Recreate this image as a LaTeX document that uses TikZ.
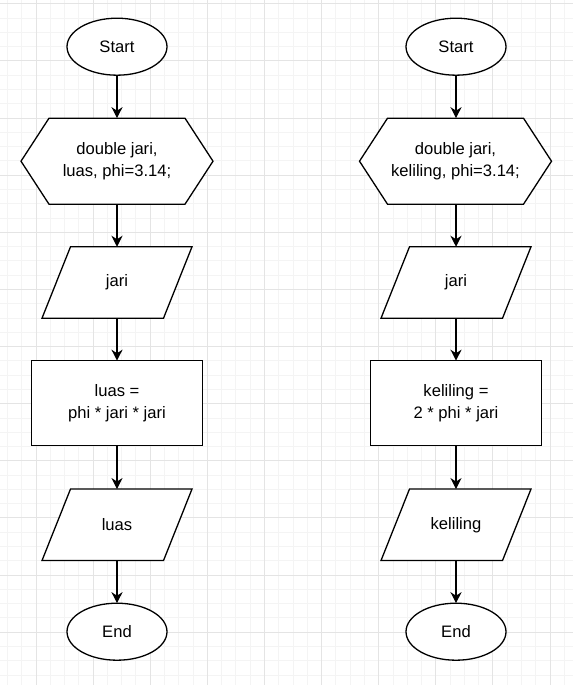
\documentclass[tikz,border=0pt]{standalone}
\usepackage{fontspec}
\setmainfont{Liberation Sans}
\usetikzlibrary{arrows.meta,shapes.geometric}

\pgfdeclarelayer{grid}
\pgfdeclarelayer{outline}
\pgfsetlayers{grid,outline,main}

\definecolor{gridminor}{HTML}{F4F4F4}
\definecolor{gridmajor}{HTML}{E4E4E4}

% outlines for the hexagon (preparation) and parallelogram (input/output) boxes
\newcommand\hexoutline[1]{%
  \draw[shapeline] ([xshift=28pt]#1.north west) -- ([xshift=-28pt]#1.north east)
    -- (#1.east) -- ([xshift=-28pt]#1.south east) -- ([xshift=28pt]#1.south west)
    -- (#1.west) -- cycle;}
\newcommand\iooutline[1]{%
  \draw[shapeline] ([xshift=28.5pt]#1.north west) -- (#1.north east)
    -- ([xshift=-28.5pt]#1.south east) -- (#1.south west) -- cycle;}

\begin{document}
\begin{tikzpicture}[x=1pt,y=-1pt,
  base/.style={font=\fontsize{16.6}{21.7}\selectfont, align=center,
    inner sep=0pt, outer sep=0pt},
  terminal/.style={base, ellipse, draw, fill=white, line width=1.3pt,
    minimum width=100pt, minimum height=57pt},
  process/.style={base, rectangle, draw, fill=white, line width=1.3pt,
    minimum width=170.5pt, minimum height=85pt},
  hexbox/.style={base, minimum width=192pt, minimum height=86pt},
  iobox/.style={base, minimum width=150pt, minimum height=71.5pt},
  shapeline/.style={draw, fill=white, line width=1.3pt, line join=miter},
  flow/.style={line width=1.3pt, -{Stealth[length=11pt,width=11pt,inset=3.5pt]}}
]
\useasboundingbox (0,0) rectangle (573,685);

% background grid
\begin{pgfonlayer}{grid}
  \fill[white] (0,0) rectangle (573,685);
  \foreach \i in {0,...,39}
    \draw[gridminor, line width=1pt] ({7.44+14.28*\i},0) -- ++(0,685);
  \foreach \i in {0,...,47}
    \draw[gridminor, line width=1pt] (0,{3.88+14.28*\i}) -- ++(573,0);
  \foreach \i in {0,...,9}
    \draw[gridmajor, line width=1pt] ({36+57.12*\i},0) -- ++(0,685);
  \foreach \i in {-1,...,11}
    \draw[gridmajor, line width=1pt] (0,{61+57.12*\i}) -- ++(573,0);
\end{pgfonlayer}

% left flowchart: area of a circle
\node[terminal] (startL) at (117,46.7) {Start};
\node[hexbox]   (declL)  at (117,161.2) {double jari,\\luas, phi=3.14;};
\node[iobox]    (inL)    at (117,282.5) {jari};
\node[process]  (calcL)  at (117,403.2) {luas =\\phi * jari * jari};
\node[iobox]    (outL)   at (117,524.8) {luas};
\node[terminal] (endL)   at (117,631.7) {End};

% right flowchart: circumference of a circle
\node[terminal] (startR) at (456,46.7) {Start};
\node[hexbox]   (declR)  at (455.5,161.2) {double jari,\\keliling, phi=3.14;};
\node[iobox]    (inR)    at (456,282.5) {jari};
\node[process]  (calcR)  at (456,403.2) {keliling =\\2 * phi * jari};
\node[iobox]    (outR)   at (456,524.8) {keliling};
\node[terminal] (endR)   at (456,631.7) {End};

\begin{pgfonlayer}{outline}
  \hexoutline{declL}
  \hexoutline{declR}
  \iooutline{inL}
  \iooutline{outL}
  \iooutline{inR}
  \iooutline{outR}
\end{pgfonlayer}

% connectors
\draw[flow] (startL) -- (declL);
\draw[flow] (declL) -- (inL);
\draw[flow] (inL) -- (calcL);
\draw[flow] (calcL) -- (outL);
\draw[flow] (outL) -- (endL);

\draw[flow] (startR) -- (declR.north -| startR);
\draw[flow] (declR.south -| inR) -- (inR);
\draw[flow] (inR) -- (calcR);
\draw[flow] (calcR) -- (outR);
\draw[flow] (outR) -- (endR);
\end{tikzpicture}
\end{document}
